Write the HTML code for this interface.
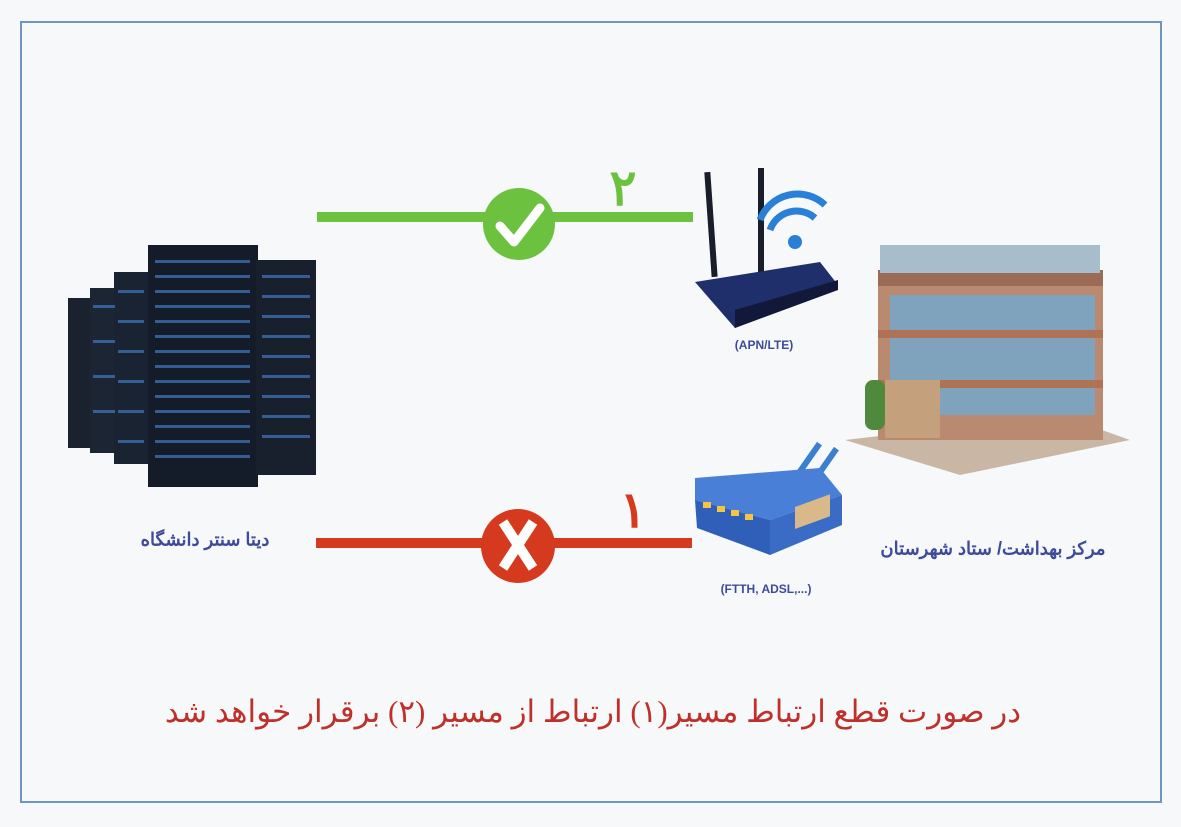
<!DOCTYPE html>
<html><head><meta charset="utf-8"><style>
body{margin:0;width:1181px;height:827px;background:#f7f8fa;position:relative;overflow:hidden;font-family:"Liberation Sans","Noto Sans CJK SC",sans-serif}
.frame{position:absolute;left:20px;top:21px;width:1142px;height:782px;border:2px solid #6f95c4;box-sizing:border-box}
.t{position:absolute;white-space:nowrap;transform:translate(-50%,-50%)}
</style></head><body>
<div class="frame"></div>
<svg width="1181" height="827" style="position:absolute;left:0;top:0">
<rect x="317" y="212" width="376" height="10" fill="#6cc13f"/>
<circle cx="519" cy="224" r="36" fill="#6cc13f"/>
<path d="M500 226 L514 242 L540 208" stroke="#fff" stroke-width="9" fill="none" stroke-linecap="round" stroke-linejoin="round"/>
<rect x="316" y="538" width="376" height="10" fill="#d63a1e"/>
<circle cx="518" cy="546" r="37" fill="#d63a1e"/>
<path d="M503 522 L533 568 M533 522 L503 568" stroke="#fff" stroke-width="10"/>
<g>
<rect x="68" y="298" width="25" height="150" fill="#1a2230"/>
<rect x="90" y="288" width="28" height="165" fill="#1c2534"/>
<rect x="114" y="272" width="35" height="192" fill="#1a2332"/>
<rect x="148" y="245" width="110" height="242" fill="#141c2a"/>
<rect x="256" y="260" width="60" height="215" fill="#18202e"/>
<g fill="#3b6fae" opacity="0.8">
<rect x="155" y="260" width="95" height="3"/><rect x="155" y="275" width="95" height="3"/><rect x="155" y="290" width="95" height="3"/><rect x="155" y="305" width="95" height="3"/><rect x="155" y="320" width="95" height="3"/><rect x="155" y="335" width="95" height="3"/><rect x="155" y="350" width="95" height="3"/><rect x="155" y="365" width="95" height="3"/><rect x="155" y="380" width="95" height="3"/><rect x="155" y="395" width="95" height="3"/><rect x="155" y="410" width="95" height="3"/><rect x="155" y="425" width="95" height="3"/><rect x="155" y="440" width="95" height="3"/><rect x="155" y="455" width="95" height="3"/>
<rect x="262" y="275" width="48" height="3"/><rect x="262" y="295" width="48" height="3"/><rect x="262" y="315" width="48" height="3"/><rect x="262" y="335" width="48" height="3"/><rect x="262" y="355" width="48" height="3"/><rect x="262" y="375" width="48" height="3"/><rect x="262" y="395" width="48" height="3"/><rect x="262" y="415" width="48" height="3"/><rect x="262" y="435" width="48" height="3"/>
<rect x="118" y="290" width="26" height="3"/><rect x="118" y="320" width="26" height="3"/><rect x="118" y="350" width="26" height="3"/><rect x="118" y="380" width="26" height="3"/><rect x="118" y="410" width="26" height="3"/><rect x="118" y="440" width="26" height="3"/>
<rect x="93" y="305" width="22" height="3"/><rect x="93" y="340" width="22" height="3"/><rect x="93" y="375" width="22" height="3"/><rect x="93" y="410" width="22" height="3"/>
</g>
</g>
<rect x="708" y="172" width="6" height="105" fill="#1a1d2a" transform="rotate(-4 711 225)"/>
<rect x="758" y="168" width="6" height="105" fill="#1a1d2a"/>
<path d="M695 282 L820 262 L838 285 L735 328 Z" fill="#1f2f6b"/>
<path d="M735 310 L838 280 L838 290 L735 328 Z" fill="#12183a"/>
<path d="M760 220 A40 40 0 0 1 825 205" stroke="#2a7fd6" stroke-width="7" fill="none"/>
<path d="M770 230 A28 28 0 0 1 815 218" stroke="#2a7fd6" stroke-width="7" fill="none"/>
<circle cx="795" cy="242" r="7" fill="#2a7fd6"/>
<rect x="805" y="440" width="6" height="38" fill="#3a7fd0" transform="rotate(35 808 460)"/>
<rect x="822" y="445" width="6" height="38" fill="#3a7fd0" transform="rotate(35 825 465)"/>
<path d="M695 478 L820 468 L842 495 L770 520 L695 500 Z" fill="#4a7fd8"/>
<path d="M695 500 L770 520 L770 555 L697 528 Z" fill="#2f5fb8"/>
<path d="M770 520 L842 495 L842 525 L770 555 Z" fill="#3a6cc6"/>
<g fill="#f5c542"><rect x="703" y="502" width="8" height="6"/><rect x="717" y="506" width="8" height="6"/><rect x="731" y="510" width="8" height="6"/><rect x="745" y="514" width="8" height="6"/></g>
<rect x="795" y="507" width="35" height="22" fill="#d9b88a" transform="skewY(-20)" transform-origin="795 518"/>
<path d="M845 440 L1060 415 L1130 440 L960 475 Z" fill="#c9b6a4"/>
<rect x="878" y="285" width="225" height="155" fill="#b98a70"/>
<rect x="890" y="295" width="205" height="120" fill="#7fa3bd"/>
<rect x="878" y="270" width="225" height="16" fill="#9a6b55"/>
<rect x="880" y="245" width="220" height="28" fill="#a8bdcc"/>
<rect x="878" y="330" width="225" height="8" fill="#b07255"/>
<rect x="878" y="380" width="225" height="8" fill="#b07255"/>
<rect x="885" y="380" width="55" height="58" fill="#c5a07c"/>
<rect x="865" y="380" width="20" height="50" fill="#4f8a3c" rx="8"/>
</svg>
<div class="t" style="left:623px;top:188px;font-size:50px;font-weight:bold;color:#6cc13f">۲</div>
<div class="t" style="left:633px;top:510px;font-size:50px;font-weight:bold;color:#d63a1e">۱</div>
<div class="t" style="left:764px;top:345px;font-size:12px;font-weight:bold;color:#3e4a9a">(APN/LTE)</div>
<div class="t" style="left:766px;top:589px;font-size:12px;font-weight:bold;color:#3e4a9a">(FTTH, ADSL,...)</div>
<div class="t" dir="rtl" style="left:205px;top:540px;font-size:18px;font-weight:bold;color:#3e4a9a">دیتا سنتر دانشگاه</div>
<div class="t" dir="rtl" style="left:993px;top:549px;font-size:18px;font-weight:bold;color:#3e4a9a">مرکز بهداشت/ ستاد شهرستان</div>
<div class="t" dir="rtl" style="left:593px;top:712px;font-size:31px;color:#c0302a;font-family:'Liberation Serif','Noto Serif CJK SC',serif">در صورت قطع ارتباط مسیر(۱) ارتباط از مسیر (۲) برقرار خواهد شد</div>
</body></html>
